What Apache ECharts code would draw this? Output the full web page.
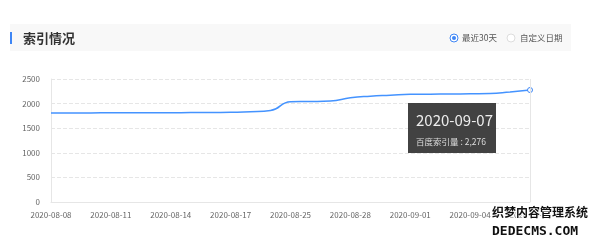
<!DOCTYPE html>
<html>
<head>
<meta charset="utf-8">
<script src="https://cdn.jsdelivr.net/npm/echarts@6/dist/echarts.min.js"></script>
<style>
html,body{margin:0;padding:0;background:#fff;}
#c{width:600px;height:243px;}
</style>
</head>
<body>
<div id="c"></div>
<script>
var categories = ['2020-08-08','2020-08-09','2020-08-10','2020-08-11','2020-08-12','2020-08-13','2020-08-14','2020-08-15','2020-08-16','2020-08-17','2020-08-18','2020-08-24','2020-08-25','2020-08-26','2020-08-27','2020-08-28','2020-08-29','2020-08-30','2020-09-01','2020-09-02','2020-09-03','2020-09-04','2020-09-05','2020-09-06','2020-09-07'];
var indexValues = [1810,1810,1811,1812,1813,1814,1815,1817,1819,1824,1834,1858,2040,2043,2052,2118,2150,2170,2190,2192,2195,2200,2205,2238,2276];
var yTicks = [0,500,1000,1500,2000,2500];
var seriesName = '百度索引量';
var title = '索引情况';
var radioLabels = ['最近30天','自定义日期'];

var chart = echarts.init(document.getElementById('c'), null, {renderer:'canvas'});
var lastIdx = indexValues.length - 1;
var font = '"Noto Sans CJK SC", "Microsoft YaHei", sans-serif';
chart.setOption({
  animation:false,
  grid:{left:51,right:70,top:79,bottom:41},
  graphic:[
    {type:'rect',shape:{x:10,y:24,width:561,height:27},style:{fill:'#f8f8f8'},silent:true},
    {type:'rect',shape:{x:10,y:32,width:2,height:12},style:{fill:'#3e86f5'},silent:true},
    {type:'text',x:23,y:38,style:{text:title,fill:'#333',font:'bold 13px '+font,textVerticalAlign:'middle'}},
    {type:'circle',shape:{cx:454,cy:38,r:4},style:{fill:'#fff',stroke:'#3e86f5',lineWidth:1}},
    {type:'circle',shape:{cx:454,cy:38,r:2},style:{fill:'#3e86f5'}},
    {type:'text',x:462,y:38,style:{text:radioLabels[0],fill:'#555',font:'8.5px '+font,textVerticalAlign:'middle'}},
    {type:'circle',shape:{cx:511,cy:38,r:4},style:{fill:'#fff',stroke:'#ddd',lineWidth:1}},
    {type:'text',x:520,y:38,style:{text:radioLabels[1],fill:'#555',font:'8.5px '+font,textVerticalAlign:'middle'}},
    {type:'text',x:492,y:206,z:100,style:{text:'织梦内容管理系统',fill:'#111',stroke:'#fff',lineWidth:2,font:'bold 12px '+font}},
    {type:'text',x:492,y:225,z:100,style:{text:'DEDECMS.COM',fill:'#111',stroke:'#fff',lineWidth:2,font:'bold 13px "DejaVu Sans Mono", monospace'}}
  ],
  tooltip:{
    trigger:'axis',
    alwaysShowContent:true,
    position:[408,103],
    backgroundColor:'rgba(50,50,50,0.92)',
    borderWidth:0,
    padding:[8,8],
    extraCssText:'border-radius:0;box-shadow:none;width:72px;height:34px;',
    axisPointer:{type:'line',lineStyle:{color:'#e6e6e6',width:1,type:'solid'}},
    formatter:function(p){
      var d=p[0];
      return '<div style="font:15px '+font.replace(/"/g,"'")+';color:#eee;line-height:18px;">'+d.name+'</div>'+
             '<div style="font:8.5px '+font.replace(/"/g,"'")+';color:#ddd;margin-top:6px;">'+seriesName+' : '+d.value.toLocaleString('en-US')+'</div>';
    }
  },
  xAxis:{
    type:'category',
    data:categories,
    boundaryGap:false,
    axisLine:{lineStyle:{color:'#e6e6e6'}},
    axisTick:{show:false},
    axisLabel:{interval:2,color:'#666',fontSize:8,margin:9,fontFamily:font}
  },
  yAxis:{
    type:'value',
    min:yTicks[0],max:yTicks[yTicks.length-1],interval:yTicks[1]-yTicks[0],
    axisLine:{show:true,lineStyle:{color:'#e6e6e6'}},
    axisTick:{show:false},
    axisLabel:{color:'#666',fontSize:8,margin:11,fontFamily:font,formatter:function(v){return String(v);}},
    splitLine:{lineStyle:{color:'#e6e6e6',type:'dashed'}}
  },
  series:[{
    name:seriesName,
    type:'line',
    data:indexValues,
    smooth:true,
    showSymbol:true,
    symbol:'circle',
    symbolSize:function(v,p){return p.dataIndex===lastIdx?5:0;},
    lineStyle:{color:'#3e86f5',width:1.5},
    itemStyle:{color:'#fff',borderColor:'#3e86f5',borderWidth:1},
    emphasis:{scale:false,lineStyle:{width:1.5},itemStyle:{color:'#fff',borderColor:'#3e86f5',borderWidth:1}}
  }]
});
chart.dispatchAction({type:'showTip',seriesIndex:0,dataIndex:lastIdx});
</script>
</body>
</html>
